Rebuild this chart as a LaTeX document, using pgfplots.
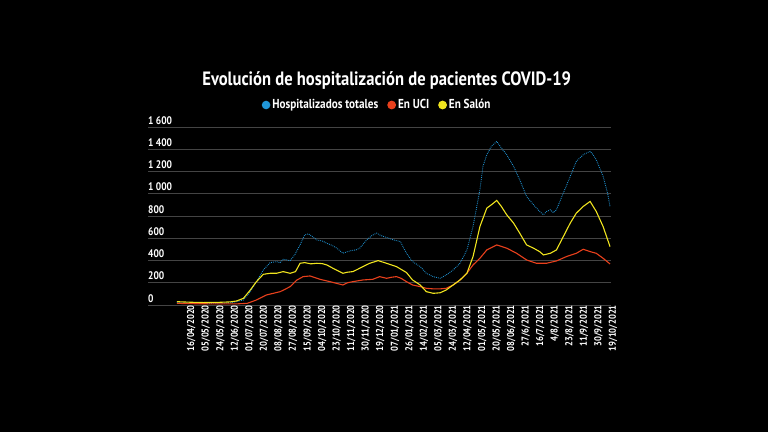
\documentclass[border=0pt]{standalone}
\usepackage{pgfplots}
\pgfplotsset{compat=1.18}
\usepackage{fontspec}
\setmainfont{PT Sans}[FakeStretch=0.86]
\definecolor{cblue}{RGB}{32,150,215}
\definecolor{cred}{RGB}{232,64,28}
\definecolor{cyellow}{RGB}{240,228,30}
\definecolor{cgrid}{RGB}{68,68,68}
\begin{document}
\begin{tikzpicture}[x=1pt,y=1pt]
\fill[black] (0,0) rectangle (768,432);
\node[text=white, font=\fontsize{19.3}{21}\selectfont\bfseries] at (386.7,351.3) {Evolución de hospitalización de pacientes COVID-19};
\begin{axis}[
  at={(148pt,127pt)}, anchor=south west,
  scale only axis, width=463pt, height=178pt,
  xmin=-52.7, xmax=552.3, ymin=0, ymax=1600,
  axis line style={draw=none},
  tick style={draw=none},
  ymajorgrids, major grid style={cgrid, line width=0.7pt},
  clip=false,
  xtick={0,19,...,551},
  xticklabels={16/04/2020,05/05/2020,24/05/2020,12/06/2020,01/07/2020,20/07/2020,08/08/2020,27/08/2020,15/09/2020,04/10/2020,23/10/2020,11/11/2020,30/11/2020,19/12/2020,07/01/2021,26/01/2021,14/02/2021,05/03/2021,24/03/2021,12/04/2021,01/05/2021,20/05/2021,08/06/2021,27/6/2021,16/7/2021,4/8/2021,23/8/2021,11/9/2021,30/9/2021,19/10/2021},
  xticklabel style={rotate=90, anchor=east, text=white, inner sep=0pt, yshift=-3pt, font=\fontsize{10}{11}\selectfont\bfseries},
  ytick={0,200,...,1600},
  yticklabels={0,200,400,600,800,1 000,1 200,1 400,1 600},
  yticklabel style={anchor=base west, text=white, inner sep=0pt, yshift=3pt, font=\fontsize{11}{12}\selectfont\bfseries},
  legend style={at={(rel axis cs:0.495,1.1236)}, anchor=center, draw=none, fill=none, text=white,
    font=\fontsize{13}{14}\selectfont\bfseries, legend columns=-1,
    /tikz/every even column/.append style={column sep=7pt}},
  legend image code/.code={\fill[#1, solid] (0pt,0pt) circle (3.8pt);},
]
\addplot[cblue, line width=0.9pt, dash pattern=on 0.8pt off 1.1pt] coordinates {
(-15,21)(-5,18)(2,15)(20,14)(40,15)(55,20)(63,30)(72,45)(81,120)(89,210)(98,315)(107,381)(115,390)(120,380)(124,411)(129,405)(133,399)(139,450)(146,540)(152,630)(157,640)(162,615)(168,585)(175,575)(181,555)(188,535)(194,511)(202,465)(208,480)(213,489)(219,495)(224,511)(233,585)(240,625)(246,646)(250,630)(255,616)(262,600)(268,585)(277,570)(285,465)(293,390)(303,345)(311,285)(320,255)(329,240)(337,270)(346,315)(355,375)(364,495)(372,705)(381,1036)(385,1246)(390,1351)(396,1426)(403,1471)(409,1411)(416,1351)(425,1246)(433,1126)(442,976)(451,901)(459,841)(464,811)(468,840)(473,856)(477,830)(481,856)(490,1006)(499,1156)(507,1291)(516,1351)(520,1365)(525,1381)(529,1350)(533,1306)(542,1156)(548,1000)(551,886)
};
\addlegendentry{Hospitalizados totales}
\addplot[cred, line width=1.1pt] coordinates {
(-15,15)(2,12)(40,10)(63,10)(77,15)(89,45)(102,90)(111,105)(120,120)(126,140)(133,165)(142,225)(150,255)(159,261)(166,245)(172,231)(185,210)(202,180)(208,200)(215,210)(228,225)(241,231)(250,255)(259,240)(266,250)(272,255)(278,240)(285,210)(293,180)(303,165)(311,150)(320,145)(329,145)(337,150)(346,180)(355,225)(364,285)(372,360)(381,420)(390,495)(403,540)(416,511)(429,465)(442,405)(455,375)(468,375)(481,396)(494,435)(507,465)(516,501)(525,480)(533,465)(542,420)(551,369)
};
\addlegendentry{En UCI}
\addplot[cyellow, line width=1.1pt] coordinates {
(-15,30)(2,25)(20,22)(40,24)(55,28)(63,36)(72,60)(81,135)(89,210)(98,276)(107,285)(115,285)(124,300)(133,285)(140,300)(146,375)(152,381)(160,370)(168,375)(175,372)(181,360)(189,330)(202,285)(208,295)(215,300)(221,320)(228,345)(237,375)(248,399)(259,375)(272,345)(285,292)(293,225)(303,180)(311,120)(320,105)(329,110)(337,135)(346,180)(355,225)(364,285)(372,435)(381,705)(390,871)(396,901)(403,940)(409,886)(416,811)(425,736)(433,646)(442,540)(451,511)(459,480)(464,450)(473,465)(481,495)(490,615)(499,736)(507,826)(516,886)(525,931)(533,841)(542,705)(551,525)
};
\addlegendentry{En Salón}
\end{axis}
\pgfresetboundingbox
\useasboundingbox (0,0) rectangle (768,432);
\end{tikzpicture}
\end{document}
